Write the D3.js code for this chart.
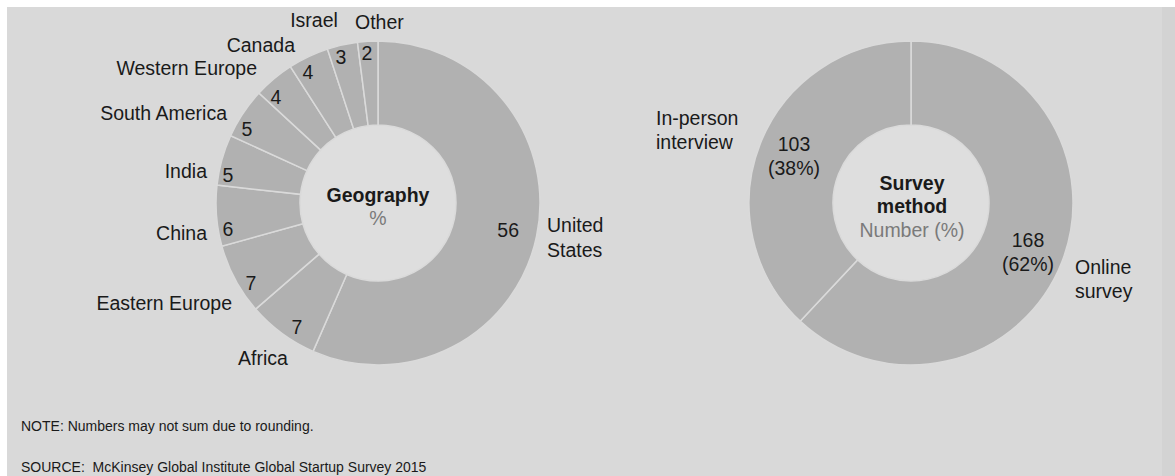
<!DOCTYPE html>
<html lang="en">
<head>
    <meta charset="UTF-8">
    <title>Global Startup Survey</title>
    <script src="https://cdn.jsdelivr.net/npm/d3@7/dist/d3.min.js"></script>
    <style>
        body { margin: 0; background: #fff; }
        svg { display: block; font-family: "Liberation Sans", Arial, sans-serif; }
    </style>
</head>
<body>
<svg width="1175" height="476" id="main"></svg>
<script>
    // geography donut (percent), clockwise from 12 o'clock
    const geoNames = ['United States', 'Africa', 'Eastern Europe', 'China', 'India',
        'South America', 'Western Europe', 'Canada', 'Israel', 'Other'];
    const geoValues = [56, 7, 7, 6, 5, 5, 4, 4, 3, 2];

    // survey method donut (number of respondents)
    const methodNames = ['Online survey', 'In-person interview'];
    const methodValues = [168, 103];

    const svg = d3.select('#main');
    const bg = '#d9d9d9', sliceFill = '#b1b1b1', sep = '#dadada', hole = '#dedede';

    svg.append('rect').attr('width', 1175).attr('height', 476).attr('fill', '#fff');
    svg.append('rect').attr('x', 7).attr('y', 7).attr('width', 1155).attr('height', 469).attr('fill', bg);
    svg.append('rect').attr('x', 1162).attr('y', 7).attr('width', 13).attr('height', 469).attr('fill', '#d3d3d3');

    const outerR = 162, innerR = 78;
    const arc = d3.arc().innerRadius(innerR).outerRadius(outerR);
    const pie = d3.pie().sort(null).value(d => d);

    function donut(cx, cy, values) {
        const g = svg.append('g').attr('transform', `translate(${cx},${cy})`);
        g.append('circle').attr('r', innerR).attr('fill', hole);
        g.selectAll('path')
            .data(pie(values))
            .join('path')
            .attr('d', arc)
            .attr('fill', sliceFill)
            .attr('stroke', sep)
            .attr('stroke-width', 1.5);
        return g;
    }

    function label(g, x, y, lines, opts = {}) {
        const t = g.append('text')
            .attr('x', x).attr('y', y)
            .attr('text-anchor', opts.anchor || 'middle')
            .attr('font-size', opts.size || 19.5)
            .attr('font-weight', opts.bold ? 'bold' : null)
            .attr('fill', opts.fill || '#1a1a1a');
        lines.forEach((s, i) => t.append('tspan')
            .attr('x', x).attr('dy', i === 0 ? '0.35em' : (opts.lh || 24))
            .text(s));
    }

    // ---- left donut ----
    const geoCx = 378, geoCy = 203;
    const gGeo = donut(geoCx, geoCy, geoValues);

    // value label positions (relative to centre) and name label positions
    const geoValuePos = [[141, 27, 'end'], [-81, 124], [-127, 80], [-150, 26], [-150, -28],
        [-131, -74], [-102, -106], [-70, -131], [-37, -146], [-11, -150]];
    const geoNamePos = [[169, 22, 'start', ['United', 'States']], [-115, 155, 'middle'],
        [-146, 100, 'end'], [-171, 30, 'end'], [-171, -32, 'end'], [-151, -90, 'end'],
        [-121, -135, 'end'], [-83, -158, 'end'], [-64, -183, 'middle'], [-23, -181, 'start']];

    geoValues.forEach((v, i) => {
        const p = geoValuePos[i];
        label(gGeo, p[0], p[1], [String(v)], {anchor: p[2] || 'middle'});
        const n = geoNamePos[i];
        label(gGeo, n[0], n[1], n[3] || [geoNames[i]], {anchor: n[2], lh: 25});
    });

    label(gGeo, 0, -8, ['Geography'], {bold: true});
    label(gGeo, 0, 15, ['%'], {fill: '#7a7a7a'});

    // ---- right donut ----
    const mCx = 911, mCy = 203;
    const gM = donut(mCx, mCy, methodValues);
    const total = d3.sum(methodValues);
    const pct = v => `(${Math.round(v / total * 100)}%)`;

    label(gM, 117, 37, [String(methodValues[0]), pct(methodValues[0])]);
    label(gM, 164, 64, ['Online', 'survey'], {anchor: 'start'});
    label(gM, -117, -59, [String(methodValues[1]), pct(methodValues[1])]);
    label(gM, -255, -85, ['In-person', 'interview'], {anchor: 'start'});

    label(gM, 1, -20, ['Survey', 'method'], {bold: true, lh: 23});
    label(gM, 1, 27, ['Number (%)'], {fill: '#7a7a7a'});

    // ---- notes ----
    svg.append('text').attr('x', 21).attr('y', 431).attr('font-size', 14).attr('fill', '#1a1a1a')
        .text('NOTE: Numbers may not sum due to rounding.');
    svg.append('text').attr('x', 21).attr('y', 472).attr('font-size', 14).attr('fill', '#1a1a1a')
        .attr('xml:space', 'preserve')
        .text('SOURCE:  McKinsey Global Institute Global Startup Survey 2015');
</script>
</body>
</html>
